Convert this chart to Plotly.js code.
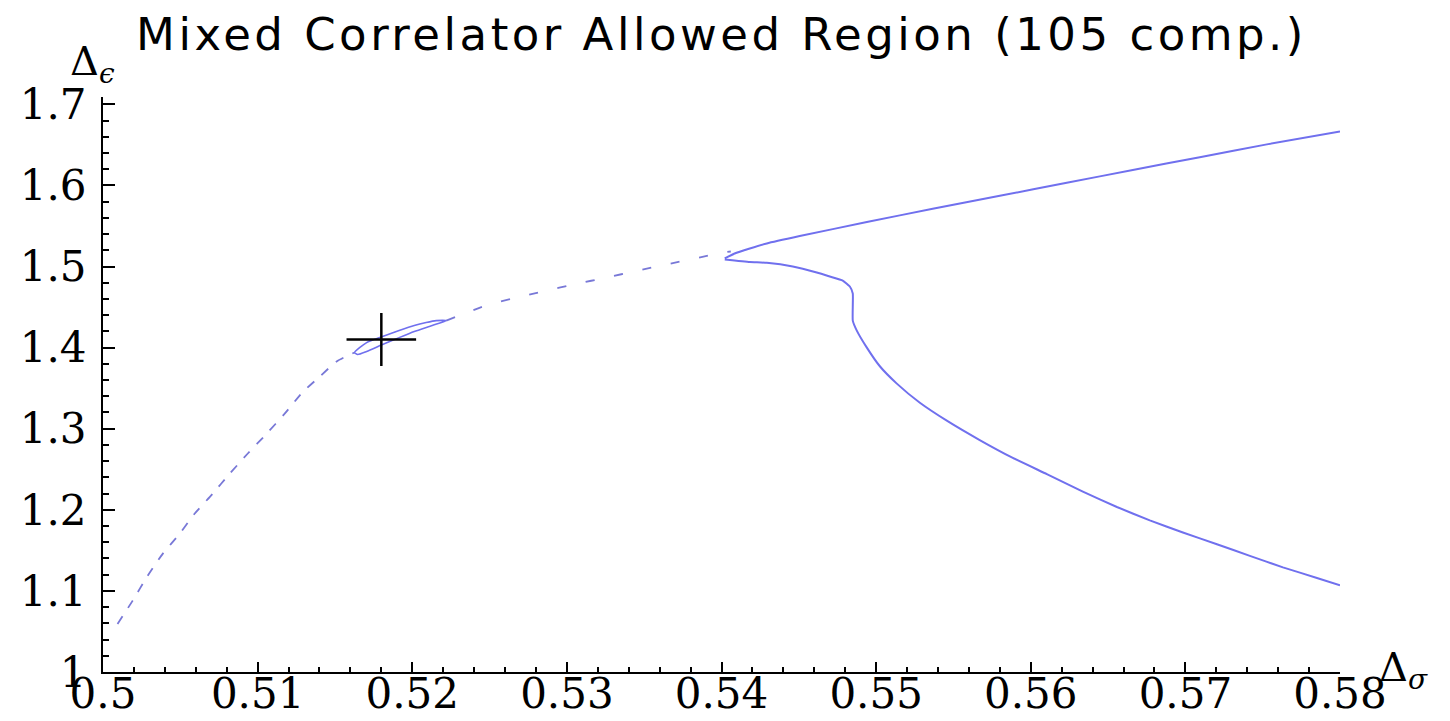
<!DOCTYPE html>
<html>
<head>
<meta charset="utf-8">
<script src="https://cdn.plot.ly/plotly-3.0.1.min.js"></script>
<style>html,body{margin:0;padding:0;background:#fff;}#chart{width:1450px;height:721px;}
#chart .gtitle{letter-spacing:3.5px;}</style>
</head>
<body>
<div id="chart"></div>
<script>
// Dashed contour (lower-left part up to the small loop)
const dashX = [0.50094,0.50191,0.50288,0.50386,0.50495,0.50592,0.50709,0.50819,0.50935,0.51058,0.51175,0.51291,0.51401,0.51511,0.51627];
const dashY = [1.0593,1.0877,1.1185,1.1457,1.1704,1.1951,1.2198,1.2444,1.2691,1.2938,1.3185,1.3450,1.3640,1.3830,1.3940];
// Small closed loop near the cross
const loopX = [0.51627,0.51705,0.51808,0.51915,0.52013,0.52090,0.52155,0.52220,0.52129,0.52013,0.51915,0.51808,0.51705,0.51647,0.51627];
const loopY = [1.3940,1.4062,1.4136,1.4210,1.4272,1.4309,1.4333,1.4333,1.4272,1.4198,1.4123,1.4037,1.3951,1.3914,1.3940];
// Dashed continuation to the wedge vertex
const dash2X = [0.52220,0.52479,0.52647,0.52841,0.53061,0.53255,0.53449,0.53643,0.53843,0.54005,0.54060];
const dash2Y = [1.4333,1.4520,1.4605,1.4691,1.4785,1.4864,1.4945,1.5025,1.5105,1.5170,1.5185];
// Solid upper branch
const upperX = [0.54021,0.54085,0.54183,0.54293,0.54506,0.54940,0.55366,0.55800,0.56233,0.56660,0.57093,0.57527,0.58000];
const upperY = [1.5099,1.5160,1.5222,1.5284,1.5375,1.5548,1.5712,1.5872,1.6032,1.6190,1.6348,1.6506,1.6665];
// Solid lower branch
const lowerX = [0.54021,0.54183,0.54293,0.54461,0.54616,0.54700,0.54784,0.54830,0.54849,0.54849,0.54875,0.54940,0.55024,0.55134,0.55283,0.55457,0.55670,0.55884,0.56104,0.56337,0.56557,0.56770,0.56984,0.57204,0.57417,0.57631,0.57851,0.58000];
const lowerY = [1.5086,1.5055,1.5045,1.5000,1.4926,1.4877,1.4827,1.4753,1.4667,1.4333,1.4210,1.4000,1.3770,1.3556,1.3320,1.3099,1.2860,1.2640,1.2440,1.2225,1.2035,1.1870,1.1720,1.1575,1.1432,1.1290,1.1160,1.1070];
// Cross marker (best fit point)
const crossX = [0.518];
const crossY = [1.41];
const crossHalfWidth = [0.00225];
const crossHalfHeight = [0.0327];

const xTicks = [0.5,0.51,0.52,0.53,0.54,0.55,0.56,0.57,0.58];
const xTickText = ['0.5','0.51','0.52','0.53','0.54','0.55','0.56','0.57','0.58'];
const yTicks = [1,1.1,1.2,1.3,1.4,1.5,1.6,1.7];
const yTickText = ['1','1.1','1.2','1.3','1.4','1.5','1.6','1.7'];

const solidColor = 'rgb(112,112,238)';
const dashColor = 'rgb(120,120,215)';

const traces = [
  {x: dashX, y: dashY, mode:'lines', line:{color:dashColor, width:1.8, dash:'9px,10px', shape:'spline', smoothing:0.6}, hoverinfo:'skip'},
  {x: loopX, y: loopY, mode:'lines', line:{color:solidColor, width:1.6, shape:'spline', smoothing:0.6}, hoverinfo:'skip'},
  {x: dash2X, y: dash2Y, mode:'lines', line:{color:dashColor, width:1.8, dash:'9px,20px', shape:'spline', smoothing:0.6}, hoverinfo:'skip'},
  {x: upperX, y: upperY, mode:'lines', line:{color:solidColor, width:2, shape:'spline', smoothing:0.6}, hoverinfo:'skip'},
  {x: lowerX, y: lowerY, mode:'lines', line:{color:solidColor, width:2, shape:'spline', smoothing:0.4}, hoverinfo:'skip'},
  {x: crossX, y: crossY, mode:'markers', marker:{size:1, color:'black'},
   error_x:{type:'data', array: crossHalfWidth, symmetric:true, color:'black', thickness:2.5, width:0},
   error_y:{type:'data', array: crossHalfHeight, symmetric:true, color:'black', thickness:2.5, width:0},
   hoverinfo:'skip'}
];

const tickFont = {family:'DejaVu Serif, serif', size:42, color:'black'};

const layout = {
  width:1450, height:721,
  paper_bgcolor:'white', plot_bgcolor:'white',
  showlegend:false,
  margin:{l:103, r:110, t:97, b:49, pad:0},
  title:{text:'Mixed Correlator Allowed Region (105 comp.)', font:{family:'DejaVu Sans, sans-serif', size:45, color:'black'},
         x:0.5, xref:'paper', y:0.953, yref:'container', yanchor:'middle'},
  xaxis:{range:[0.5,0.58], tickvals:xTicks, ticktext:xTickText, showgrid:false, zeroline:false,
         showline:true, linecolor:'black', linewidth:2, ticks:'inside', ticklen:10, tickwidth:2, tickcolor:'black',
         tickfont:tickFont, ticklabelstandoff:-16,
         minor:{dtick:0.002, ticks:'inside', ticklen:5, tickwidth:2, tickcolor:'black', showgrid:false}},
  yaxis:{range:[1,1.709], tickvals:yTicks, ticktext:yTickText, showgrid:false, zeroline:false,
         showline:true, linecolor:'black', linewidth:2, ticks:'inside', ticklen:12, tickwidth:2, tickcolor:'black',
         tickfont:tickFont, ticklabelstandoff:6,
         minor:{dtick:0.02, ticks:'inside', ticklen:6, tickwidth:2, tickcolor:'black', showgrid:false}},
  annotations:[
    {text:'Δ<sub><i>ϵ</i></sub>', xref:'paper', yref:'paper', x:-0.028, y:1.008, xanchor:'left', yanchor:'bottom',
     showarrow:false, font:{family:'DejaVu Serif, serif', size:40, color:'black'}},
    {text:'Δ<sub><i>σ</i></sub>', xref:'paper', yref:'paper', x:1.03, y:-0.045, xanchor:'left', yanchor:'bottom',
     showarrow:false, font:{family:'DejaVu Serif, serif', size:40, color:'black'}}
  ]
};

Plotly.newPlot('chart', traces, layout, {displayModeBar:false, staticPlot:true});
</script>
</body>
</html>
